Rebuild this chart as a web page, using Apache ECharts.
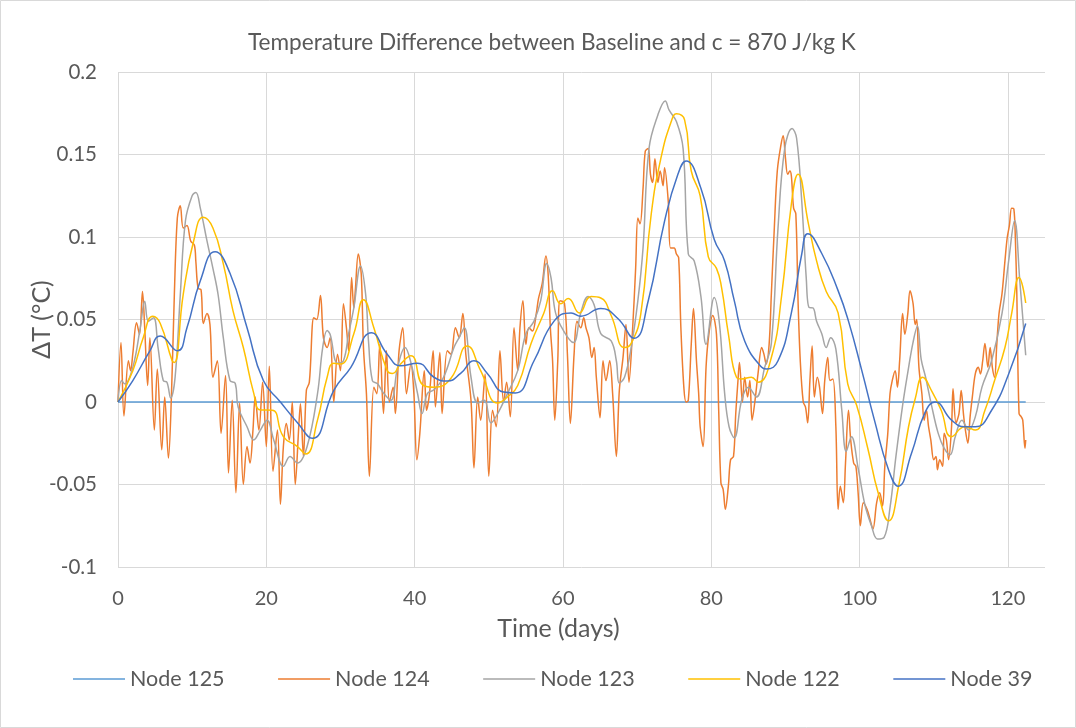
<!DOCTYPE html>
<html><head><meta charset="utf-8">
<script src="https://cdn.jsdelivr.net/npm/echarts@6/dist/echarts.min.js"></script>
<style>html,body{margin:0;padding:0;background:#fff}#c{width:1076px;height:728px}</style>
</head><body><div id="c"></div><script>
// ---- data: [time (days), ΔT (°C)] ----
const seriesNames = ['Node 125', 'Node 124', 'Node 123', 'Node 122', 'Node 39'];
const xTicks = [0, 20, 40, 60, 80, 100, 120];
const yTicks = [-0.1, -0.05, 0, 0.05, 0.1, 0.15, 0.2];

const node125 = [[0, 0], [122.4, 0]];

const node124 = [[0,0],[0.4,0.036],[0.8,-0.0085],[1.4,0.025],[1.7,0.019],[2,0.0295],[2.5,0.048],[2.9,0.041],[3.3,0.067],[3.6,0.045],[4,0.01],[4.3,0.039],[4.9,-0.017],[5.3,0.02],[5.9,-0.029],[6.3,0.003],[6.8,-0.034],[7.2,0.003],[7.6,0.0655],[8,0.1115],[8.4,0.119],[8.8,0.1055],[9.3,0.107],[9.8,0.0976],[10.3,0.095],[10.5,0.085],[10.8,0.069],[11.2,0.068],[11.5,0.0476],[12,0.0536],[12.4,0.047],[12.8,0.015],[13.4,0.025],[13.9,-0.019],[14.5,0.016],[14.9,-0.043],[15.4,0.001],[15.9,-0.055],[16.4,-0.0006],[16.9,-0.05],[17.4,-0.027],[17.8,-0.037],[18.2,-0.017],[18.5,0.003],[19,-0.017],[19.5,0.012],[20,-0.027],[20.4,0.0217],[20.9,-0.042],[21.5,-0.017],[21.9,-0.062],[22.3,-0.027],[22.7,-0.013],[23.1,-0.023],[23.5,0],[23.9,-0.05],[24.4,-0.013],[24.6,-0.001],[25,-0.033],[25.4,0.007],[25.8,0.012],[26.4,0.051],[26.8,0.05],[27.3,0.0645],[27.7,0.039],[28.2,0.033],[28.6,0.039],[29.1,0],[29.6,0.029],[30,0.019],[30.4,0.0596],[30.8,0.045],[31.1,0.031],[31.5,0.0755],[31.8,0.057],[32,0.0675],[32.4,0.0897],[32.8,0.0775],[33.1,0.033],[33.5,0.005],[33.9,-0.045],[34.5,0.009],[34.9,0.005],[35.3,0.035],[35.8,-0.007],[36.2,0.031],[36.6,0],[37.1,0.009],[37.4,-0.007],[37.9,0.031],[38.4,0.045],[38.9,0.005],[39.5,0.023],[39.9,0.005],[40.3,-0.035],[40.7,-0.019],[41.3,0.019],[41.6,-0.005],[42,0.005],[42.5,0.031],[42.8,-0.003],[43.4,0.03],[43.7,-0.007],[44.4,0.031],[44.9,0.029],[45.5,0.045],[46,0.039],[46.5,0.0536],[46.9,0.029],[47.6,0.001],[48,-0.04],[48.5,0.003],[48.9,-0.011],[49.5,0.017],[50,-0.045],[50.5,-0.005],[51,-0.015],[51.5,0.031],[52,0],[52.4,0.012],[52.9,-0.009],[53.4,0.045],[53.9,0.019],[54.2,0.045],[54.6,0.0614],[55,0.035],[55.4,0.045],[55.9,0.043],[56.4,0.0536],[56.7,0.0627],[57.2,0.0717],[57.7,0.0885],[58,0.0775],[58.3,0.045],[58.6,0.025],[58.9,-0.011],[59.3,0.025],[59.6,0.0614],[60.2,0.06],[60.6,0.029],[61,-0.013],[61.5,0.029],[61.9,0.049],[62.4,0.045],[62.8,0.051],[63.1,0.045],[63.5,0.039],[63.9,0.027],[64.2,0.033],[64.5,0.015],[65,-0.0096],[65.4,0.025],[65.8,0.013],[66.3,0.025],[66.7,0.005],[67.2,-0.033],[67.6,0.007],[68.1,0.027],[68.5,0.047],[68.9,0.012],[69.4,0.045],[69.8,0.081],[70.1,0.1115],[70.4,0.108],[70.8,0.1295],[71.1,0.152],[71.5,0.1536],[71.8,0.138],[72.1,0.133],[72.4,0.1475],[72.8,0.133],[73.1,0.14],[73.5,0.131],[73.7,0.142],[74.2,0.1216],[74.5,0.0934],[75,0.0934],[75.3,0.0897],[75.6,0.0875],[75.9,0.045],[76.3,0.009],[76.6,0],[76.9,0.001],[77.3,0.035],[77.6,0.0566],[78,0.025],[78.3,0.005],[78.5,-0.015],[78.9,-0.027],[79.3,0.0215],[79.7,0.042],[80.2,0.0524],[80.7,0.041],[81,-0.005],[81.3,-0.049],[81.6,-0.053],[81.9,-0.065],[82.3,-0.051],[82.6,-0.035],[83,-0.033],[83.3,-0.007],[83.6,0.013],[83.8,0.024],[84.2,0],[84.5,0.015],[84.9,0.003],[85.2,0.013],[85.5,-0.011],[85.9,0.001],[86.3,0.017],[86.8,0.033],[87.1,0.029],[87.4,0.023],[87.8,0.035],[88.1,0.0655],[88.5,0.1055],[88.9,0.14],[89.4,0.156],[89.7,0.1614],[90,0.148],[90.3,0.138],[90.6,0.14],[90.8,0.137],[91.1,0.1175],[91.4,0.114],[91.7,0.0614],[92,0.025],[92.4,0],[92.7,-0.003],[93,-0.0126],[93.3,0.013],[93.6,0.034],[93.9,0.003],[94.3,0.015],[94.6,0.009],[95,-0.007],[95.3,0.013],[95.7,0.027],[96,0.013],[96.4,0.014],[96.8,-0.015],[97.1,-0.065],[97.4,-0.051],[97.8,-0.061],[98.1,-0.037],[98.5,-0.005],[98.8,-0.023],[99.2,-0.037],[99.5,-0.039],[99.8,-0.055],[100.1,-0.075],[100.5,-0.061],[101,-0.065],[101.4,-0.071],[101.8,-0.077],[102.3,-0.061],[102.7,-0.055],[103.1,-0.063],[103.4,-0.039],[103.8,-0.019],[104.1,0.005],[104.4,0.013],[104.8,0.019],[105.1,0.009],[105.4,0.025],[105.8,0.0536],[106.1,0.041],[106.5,0.0536],[106.8,0.0675],[107.2,0.06],[107.5,0.047],[107.7,0.05],[108,0.021],[108.4,0.005],[108.7,-0.011],[109,-0.005],[109.3,-0.015],[109.6,-0.023],[110,-0.035],[110.3,-0.033],[110.5,-0.041],[110.8,-0.035],[111.2,-0.039],[111.4,-0.019],[111.7,-0.023],[112,-0.035],[112.4,-0.015],[112.6,0.008],[113,-0.0126],[113.4,-0.007],[113.7,0.007],[114,-0.007],[114.2,-0.015],[114.6,-0.025],[114.9,-0.009],[115.2,0.003],[115.6,0.017],[116,0.021],[116.3,0.017],[116.6,0.025],[116.9,0.0355],[117.3,0.021],[117.6,0.033],[117.9,0.021],[118.2,0.015],[118.5,0.035],[118.8,0.0536],[119.2,0.0655],[119.6,0.0855],[119.9,0.0994],[120.2,0.107],[120.5,0.1175],[120.8,0.117],[121,0.0994],[121.2,0.0655],[121.5,-0.007],[121.8,-0.009],[122,-0.011],[122.3,-0.028],[122.4,-0.023]];

const node123 = [[0,0],[0.5,0.013],[0.9,0.011],[2,0.021],[3,0.045],[3.6,0.061],[4.1,0.049],[4.8,0.051],[5.4,0.033],[6.1,0.013],[6.6,0.012],[7.1,0.0024],[7.7,0.015],[8.4,0.065],[9.1,0.11],[10,0.125],[10.5,0.127],[11.1,0.1175],[12,0.0976],[12.8,0.081],[13.5,0.065],[14.2,0.039],[15.1,0.013],[15.8,0.0114],[16.2,-0.003],[17.4,-0.015],[18.3,-0.023],[19.2,-0.017],[20.1,-0.011],[21,-0.023],[22.3,-0.039],[23.2,-0.033],[24.2,-0.037],[25.5,-0.027],[26.9,0.005],[27.6,0.033],[28.2,0.0434],[28.6,0.041],[29.6,0.0235],[30.4,0.025],[31.1,0.0414],[31.8,0.057],[32.7,0.0825],[33.4,0.065],[33.8,0.0355],[34.3,0.013],[35,0.011],[35.8,0.0054],[36.8,0.001],[37.7,0.021],[38.7,0.033],[39.6,0.022],[40.4,0.005],[41,-0.007],[41.7,0.005],[42.6,0.0074],[43.9,0.015],[45.3,0.033],[46,0.039],[46.7,0.045],[47.6,0.015],[48.5,-0.0006],[49.4,0.001],[50.3,-0.0127],[51.2,-0.007],[52.5,0.005],[53.9,0.019],[55,0.0414],[56.1,0.049],[57,0.0614],[57.8,0.084],[58.4,0.075],[59,0.054],[60.1,0.043],[61.4,0.036],[62.4,0.054],[63.4,0.064],[64.2,0.059],[65.1,0.0414],[66.5,0.037],[67.2,0.025],[67.6,0.0114],[68.3,0.015],[69.2,0.033],[70.1,0.0614],[70.8,0.0934],[71.6,0.1536],[72.8,0.174],[73.8,0.1825],[74.3,0.177],[75.3,0.17],[76.2,0.1536],[76.9,0.0897],[77.7,0.0855],[78.6,0.064],[79.3,0.035],[80.4,0.0633],[81.1,0.0476],[81.8,0.0054],[82.4,-0.015],[83.1,-0.0217],[84.1,0.0012],[85,0.009],[86.1,0.003],[87.2,0.021],[88.1,0.0355],[89,0.1055],[89.9,0.1536],[90.9,0.1657],[91.5,0.16],[92.2,0.1217],[92.8,0.0755],[93.2,0.0572],[93.7,0.057],[94.2,0.049],[94.9,0.0414],[95.5,0.033],[96.1,0.039],[96.8,0.032],[97.6,-0.005],[98.2,-0.03],[98.9,-0.021],[99.8,-0.04],[100.7,-0.062],[101.6,-0.075],[102.4,-0.083],[103.3,-0.082],[104.1,-0.064],[104.9,-0.033],[105.8,-0.002],[106.5,0.018],[107.2,0.036],[107.8,0.046],[108.3,0.026],[108.9,0.015],[109.7,-0.002],[110.6,-0.019],[111.4,-0.028],[112.2,-0.032],[112.9,-0.021],[113.8,-0.011],[114.7,-0.017],[115.6,-0.009],[116.5,0.009],[117.8,0.025],[119.2,0.0536],[120.1,0.0855],[120.9,0.11],[121.6,0.0735],[122.4,0.0283]];

const node122 = [[0,0],[2,0.019],[3.4,0.039],[4.7,0.052],[5.7,0.0476],[7.3,0.025],[7.6,0.024],[8.8,0.0654],[10.2,0.0976],[11.5,0.112],[12.8,0.1055],[14.2,0.0837],[15.5,0.0554],[16.9,0.033],[18.3,0.0054],[19.2,-0.0048],[20.8,-0.005],[22.3,-0.021],[24.2,-0.027],[25.3,-0.0315],[26.9,-0.011],[28.2,0.015],[29.1,0.0235],[30,0.023],[31.8,0.0414],[33.1,0.062],[34.5,0.045],[36.3,0.019],[37,0.0173],[38.1,0.023],[39.5,0.028],[41.2,0.01],[42.6,0.009],[44.9,0.0144],[47.1,0.034],[48.9,0.019],[51.2,-0.0006],[52.5,0.003],[53.9,0.01],[55.7,0.0355],[57.4,0.0536],[58.6,0.0675],[59.7,0.0596],[60.7,0.0627],[62.2,0.054],[63.8,0.0639],[65.1,0.063],[66.5,0.0524],[68.3,0.033],[69.2,0.0355],[70.5,0.0536],[71.9,0.1138],[73.2,0.1476],[74.6,0.17],[75.3,0.1747],[76.4,0.171],[77.3,0.14],[78.5,0.125],[79.6,0.088],[80.7,0.081],[81.4,0.069],[82.3,0.0414],[83.4,0.015],[84.1,0.014],[85.4,0.015],[86.3,0.012],[88.1,0.027],[89.5,0.065],[90.8,0.12],[91.7,0.138],[93.1,0.108],[94.2,0.0855],[95.5,0.067],[97.1,0.054],[98.4,0.011],[99.6,-0.002],[101.1,-0.028],[102.5,-0.055],[103.9,-0.072],[105.3,-0.05],[106.6,-0.015],[107.5,0.002],[108.5,0.015],[109.8,0.006],[111,-0.005],[112.4,-0.021],[114.2,-0.015],[115.6,-0.017],[116.9,-0.005],[118.2,0.013],[119.6,0.033],[120.5,0.0536],[121.5,0.0755],[122.4,0.06]];

const node39 = [[0,0],[2,0.013],[4.3,0.031],[5.7,0.04],[8,0.031],[9.3,0.045],[11.1,0.0735],[13.1,0.091],[15.1,0.078],[17.4,0.045],[19.6,0.013],[21.9,0],[24.2,-0.0126],[26.2,-0.022],[29.1,0.007],[31.4,0.021],[34.2,0.042],[36.3,0.029],[38.1,0.022],[40.4,0.0235],[42.6,0.015],[44.4,0.0127],[46.2,0.0173],[48,0.025],[49.8,0.0173],[52,0.006],[53.6,0.0055],[56.1,0.025],[58.8,0.049],[61.1,0.054],[62.4,0.052],[65.1,0.0567],[67.4,0.0506],[69.6,0.0386],[71.5,0.0614],[73.7,0.1096],[75.5,0.138],[76.6,0.146],[78.6,0.1295],[80.4,0.0985],[81.8,0.0855],[83.1,0.0614],[84.5,0.037],[86.8,0.021],[87.4,0.02],[89,0.025],[90.8,0.054],[92.2,0.0897],[93,0.102],[94.9,0.09],[97.1,0.0675],[98.5,0.049],[100.3,0.019],[102,-0.011],[103.9,-0.041],[105.2,-0.051],[107,-0.031],[108.8,-0.0066],[110.2,0],[112.4,-0.011],[114.2,-0.015],[115.6,-0.015],[117.8,-0.005],[120.1,0.017],[122.4,0.0476]];

// ---- chart ----
const FONT = 'Lato';
const TXT = '#595959';
const colors = ['#5B9BD5', '#ED7D31', '#A5A5A5', '#FFC000', '#4472C4'];
const allData = [node125, node124, node123, node122, node39];
const smooths = [false, 0.35, 0.4, 0.5, 0.5];

const chart = echarts.init(document.getElementById('c'));
chart.setOption({
  animation: false,
  backgroundColor: '#fff',
  textStyle: { fontFamily: FONT },
  graphic: [{ type: 'rect', shape: { x: 0.5, y: 0.5, width: 1075, height: 727 }, style: { fill: 'none', stroke: '#d9d9d9', lineWidth: 1 }, silent: true }],
  title: {
    text: 'Temperature Difference between Baseline and c = 870 J/kg K',
    left: 243, top: 26,
    textStyle: { fontFamily: FONT, fontSize: 22.6, fontWeight: 'normal', color: TXT }
  },
  legend: {
    left: 73, top: 668, padding: 0, icon: 'rect', itemWidth: 52, itemHeight: 1.5, itemGap: 53.5,
    textStyle: { fontFamily: FONT, fontSize: 21.5, color: TXT },
    data: seriesNames
  },
  grid: { left: 118, right: 31, top: 72, bottom: 161, outerBoundsMode: 'none' },
  xAxis: {
    type: 'value', min: xTicks[0], max: 125, interval: 20,
    axisLine: { show: false }, axisTick: { show: false },
    splitLine: { show: true, showMaxLine: false, lineStyle: { color: '#d9d9d9', width: 1 } },
    axisLabel: { showMaxLabel: false, color: TXT, fontSize: 20, margin: 22, fontFamily: FONT,
      formatter: v => xTicks.includes(Math.round(v)) ? String(Math.round(v)) : '' },
    name: 'Time (days)', nameLocation: 'middle', nameGap: 49, nameMoveOverlap: false,
    nameTextStyle: { color: TXT, fontSize: 25, fontFamily: FONT, padding: [0, 46, 0, 0] }
  },
  yAxis: {
    type: 'value', min: yTicks[0], max: yTicks[yTicks.length - 1], interval: 0.05,
    axisLine: { show: false }, axisTick: { show: false },
    splitLine: { show: true, lineStyle: { color: '#d9d9d9', width: 1 } },
    axisLabel: { color: TXT, fontSize: 20.5, margin: 21, fontFamily: FONT,
      formatter: v => String(+v.toFixed(2)) },
    name: 'ΔT (°C)', nameLocation: 'middle', nameGap: 64, nameRotate: 90, nameMoveOverlap: false,
    nameTextStyle: { color: TXT, fontSize: 25, fontFamily: FONT }
  },
  series: seriesNames.map((n, i) => ({
    name: n, type: 'line', data: allData[i], smooth: smooths[i],
    symbol: 'none', showSymbol: false,
    lineStyle: { color: colors[i], width: 1.5 },
    itemStyle: { color: colors[i] },
    z: 2 + i
  }))
});
</script></body></html>
